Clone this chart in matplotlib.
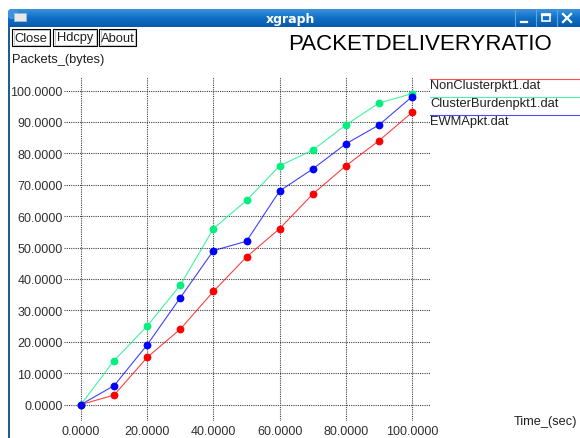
import matplotlib
matplotlib.use("Agg")
import matplotlib.pyplot as plt
from matplotlib.patches import Rectangle, FancyBboxPatch
from matplotlib.colors import LinearSegmentedColormap
import numpy as np

plt.rcParams['font.family'] = ['Liberation Sans', 'DejaVu Sans']

# Simulation results
time_sec = [0, 10, 20, 30, 40, 50, 60, 70, 80, 90, 100]
series_names = ["NonClusterpkt1.dat", "ClusterBurdenpkt1.dat", "EWMApkt.dat"]
non_cluster = [0, 3, 15, 24, 36, 47, 56, 67, 76, 84, 93]
cluster_burden = [0, 14, 25, 38, 56, 65, 76, 81, 89, 96, 99]
ewma = [0, 6, 19, 34, 49, 52, 68, 75, 83, 89, 98]
x_ticks = [0, 20, 40, 60, 80, 100]
y_ticks = [0, 10, 20, 30, 40, 50, 60, 70, 80, 90, 100]

colors = ["#ff0000", "#00f080", "#0000ff"]

W, H = 580, 439
fig = plt.figure(figsize=(W / 100, H / 100), dpi=100)
fig.patch.set_facecolor("white")

# Window chrome drawn in pixel coordinates
chrome = fig.add_axes([0, 0, 1, 1])
chrome.set_xlim(0, W)
chrome.set_ylim(H, 0)
chrome.axis("off")

# Title bar with vertical gradient
grad = np.linspace(0, 1, 64).reshape(-1, 1)
cmap = LinearSegmentedColormap.from_list("bar", ["#3c92dc", "#0f6fc6", "#0a5aa8"])
chrome.imshow(grad, cmap=cmap, extent=(8, W, 28, 10), aspect="auto", zorder=1)
chrome.add_patch(Rectangle((8, 10), 3, 3, facecolor="white", edgecolor="none", zorder=2))
chrome.add_patch(FancyBboxPatch((8, 10), 10, 10, boxstyle="round,pad=0,rounding_size=3",
                                facecolor="#3c92dc", edgecolor="none", zorder=3))
# left window border
chrome.add_patch(Rectangle((8, 28), 2.2, H - 28, facecolor="#1d5f8f", edgecolor="none", zorder=2))
# window icon
chrome.add_patch(Rectangle((14, 14), 12, 8, facecolor="#e8e8e8", edgecolor="#9fb8d0", lw=0.6, zorder=4))
chrome.text(290, 19, "xgraph", color="white", fontsize=9, fontweight="bold",
            ha="center", va="center", zorder=5, family=["DejaVu Sans"])
# title bar buttons
for bx in (515, 536, 557):
    chrome.plot([bx, bx], [11, 27], color="#5aa6e6", lw=0.8, zorder=4)
chrome.plot([521, 527], [23, 23], color="white", lw=1.6, zorder=5)
chrome.add_patch(Rectangle((542, 15), 8, 7, facecolor="none", edgecolor="white", lw=1.2, zorder=5))
chrome.plot([542, 550], [15.6, 15.6], color="white", lw=1.6, zorder=5)
chrome.plot([563, 571], [15, 23], color="white", lw=1.6, zorder=5)
chrome.plot([563, 571], [23, 15], color="white", lw=1.6, zorder=5)

# xgraph buttons
for label, x0, x1 in (("Close", 12, 50), ("Hdcpy", 53, 97), ("About", 99, 136)):
    chrome.add_patch(Rectangle((x0, 29.5), x1 - x0, 17.5, facecolor="white",
                               edgecolor="black", lw=0.8, zorder=4))
    chrome.add_patch(Rectangle((x0 + 1.5, 31), x1 - x0 - 3, 14.5, facecolor="none",
                               edgecolor="#b0b0b0", lw=0.5, zorder=4))
    chrome.text((x0 + x1) / 2, 38.5, label, fontsize=9.3, ha="center", va="center",
                color="#202020", zorder=5)

chrome.text(288, 45, "PACKETDELIVERYRATIO", fontsize=16, ha="left", va="center", color="black")
chrome.text(12, 60, "Packets_(bytes)", fontsize=9.3, ha="left", va="center", color="#202020")
chrome.text(577, 422, "Time_(sec)", fontsize=9.2, ha="right", va="center", color="#202020")

# Legend entries
for i, (name, col) in enumerate(zip(series_names, colors)):
    ly = 79.5 + i * 18
    chrome.plot([430, W], [ly, ly], color=col, lw=0.8, alpha=0.7, zorder=4)
    chrome.text(430, ly + 6.5, name, fontsize=9.3, ha="left", va="center", color="#202020")

# Data axes: frame spans the grid area
px_left, px_right, px_top, px_bottom = 64, 430, 78, 422
ax = fig.add_axes([px_left / W, 1 - px_bottom / H, (px_right - px_left) / W, (px_bottom - px_top) / H])
ax.set_facecolor("none")
# pixel->data: x0 at 81px, x100 at 412px; y0 at 405.5px, y100 at 91.5px
sx = (412 - 81) / 100.0
sy = (405.5 - 91.5) / 100.0
ax.set_xlim((px_left - 81) / sx, (px_right - 81) / sx)
ax.set_ylim((405.5 - px_bottom) / sy, (405.5 - px_top) / sy)
for s in ax.spines.values():
    s.set_visible(False)
ax.set_xticks(x_ticks)
ax.set_yticks(y_ticks)
ax.set_xticklabels([f"{v:.4f}" for v in x_ticks])
ax.set_yticklabels([f"{v:.4f}" for v in y_ticks])
ax.tick_params(length=0, labelsize=9, labelcolor="#303030")
ax.tick_params(axis="y", pad=1)
ax.tick_params(axis="x", pad=3)
ax.grid(True, color="#404040", linestyle=(0, (1, 1)), linewidth=0.8)
ax.set_axisbelow(True)

for vals, col in zip([non_cluster, cluster_burden, ewma], colors):
    ax.plot(time_sec, vals, color=col, lw=0.8, alpha=0.75, zorder=3)
    ax.plot(time_sec, vals, linestyle="none", marker="o", markersize=4.6,
            color=col, zorder=4)

fig.savefig("out.png", dpi=100)
